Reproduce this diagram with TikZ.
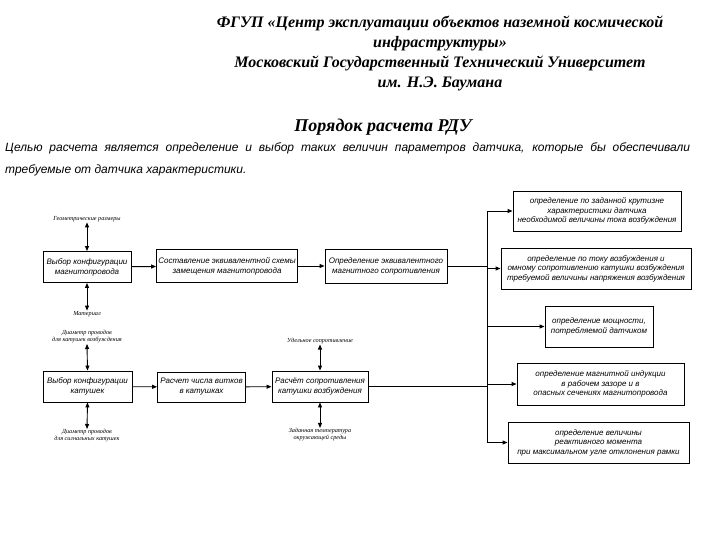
\documentclass[tikz,border=0pt]{standalone}
\usepackage{fontspec}
\setmainfont{Liberation Serif}
\newfontfamily\sansf{Liberation Sans}
\usetikzlibrary{arrows.meta}
\begin{document}
\begin{tikzpicture}[x=1pt,y=-1pt,
  box/.style={draw,line width=0.9pt,inner sep=1pt,align=center,font=\sansf\itshape\fontsize{8}{10}\selectfont},
  rbox/.style={box,font=\sansf\itshape\fontsize{8}{9.5}\selectfont},
  lab/.style={inner sep=0.5pt,align=center,font=\itshape\fontsize{6.2}{7}\selectfont},
  con/.style={line width=0.9pt},
  arr/.style={line width=0.9pt,-{Triangle[length=5pt,width=4pt]}},
  darr/.style={line width=0.9pt,{Triangle[length=5pt,width=4pt]}-{Triangle[length=5pt,width=4pt]}}]
\useasboundingbox (0,0) rectangle (720,540);
% header
\node[align=center,font=\bfseries\itshape\fontsize{16}{20}\selectfont] (hdr) at (440,53)
  {ФГУП «Центр эксплуатации объектов наземной космической\\инфраструктуры»\\Московский Государственный Технический Университет\\им. Н.Э. Баумана};
\node[font=\bfseries\itshape\fontsize{18}{22}\selectfont] (ttl) at (383,127) {Порядок расчета РДУ};
\node[anchor=west,inner sep=0,font=\sansf\itshape\fontsize{12}{14}\selectfont] (p1) at (5,148)
  {\makebox[685pt][s]{Целью расчета является определение и выбор таких величин параметров датчика, которые бы обеспечивали}};
\node[anchor=west,inner sep=0,font=\sansf\itshape\fontsize{12}{14}\selectfont] (p2) at (5,170)
  {требуемые от датчика характеристики.};
% left boxes
\node[box,minimum width=88pt,minimum height=31pt] (A) at (87,267) {Выбор конфигурации\\магнитопровода};
\node[box,minimum width=141pt,minimum height=33pt] (B) at (227,266) {Составление эквивалентной схемы\\замещения магнитопровода};
\node[box,minimum width=122pt,minimum height=34pt] (C) at (386,266) {Определение эквивалентного\\магнитного сопротивления};
\node[box,minimum width=89pt,minimum height=31pt] (D) at (87.5,386.5) {Выбор конфигурации\\катушек};
\node[box,minimum width=88pt,minimum height=30pt] (E) at (201.5,387) {Расчет числа витков\\в катушках};
\node[box,minimum width=96pt,minimum height=31pt] (F) at (320,386.5) {Расчёт сопротивления\\катушки возбуждения};
% right boxes
\node[rbox,minimum width=168pt,minimum height=40pt] (R1) at (597,211) {определение по заданной крутизне\\характеристики датчика\\необходимой величины тока возбуждения};
\node[rbox,minimum width=190pt,minimum height=41pt] (R2) at (596,268.5) {определение по току возбуждения и\\омному сопротивлению катушки возбуждения\\требуемой величины напряжения возбуждения};
\node[rbox,minimum width=108pt,minimum height=41pt] (R3) at (599,326.5) {определение мощности,\\потребляемой датчиком};
\node[rbox,minimum width=167pt,minimum height=42pt] (R4) at (600.5,384) {определение магнитной индукции\\в рабочем зазоре и в\\опасных сечениях магнитопровода};
\node[rbox,minimum width=181pt,minimum height=41pt] (R5) at (598.5,442.5) {определение величины\\реактивного момента\\при максимальном угле отклонения рамки};
% small labels
\node[lab] (L1) at (87,219) {Геометрические размеры};
\node[lab] (L2) at (87,314) {Материал};
\node[lab] (L3) at (87,337) {Диаметр проводов\\для катушек возбуждения};
\node[lab] (L4) at (87,436) {Диаметр проводов\\для сигнальных катушек};
\node[lab] (L5) at (320,341) {Удельное сопротивление};
\node[lab] (L6) at (320,435) {Заданная температура\\окружающей среды};
% trunk
\coordinate (T) at (487,212);
\coordinate (Tb) at (487,442.5);
\draw[con] (T |- R1.west) -- (Tb);
% connectors
\draw[arr] (A) -- (B);
\draw[arr] (B) -- (C);
\draw[con] (C.east) -- (C.east -| T);
\draw[arr] (D) -- (E);
\draw[arr] (E) -- (F);
\draw[con] (F.east) -- (F.east -| T);
\draw[arr] (T |- R1.west) -- (R1.west);
\draw[arr] (T |- R2.west) -- (R2.west);
\draw[arr] (T |- R3.west) -- (R3.west);
\draw[arr] (T |- R4.west) -- (R4.west);
\draw[arr] (T |- R5.west) -- (R5.west);
% vertical double arrows
\draw[darr] (L1.south) -- (A.north);
\draw[darr] (A.south) -- (L2.north);
\draw[darr] (L3.south) -- (D.north);
\draw[darr] (D.south) -- (L4.north);
\draw[darr] (L5.south) -- (F.north);
\draw[darr] (F.south) -- (L6.north);
\end{tikzpicture}
\end{document}
